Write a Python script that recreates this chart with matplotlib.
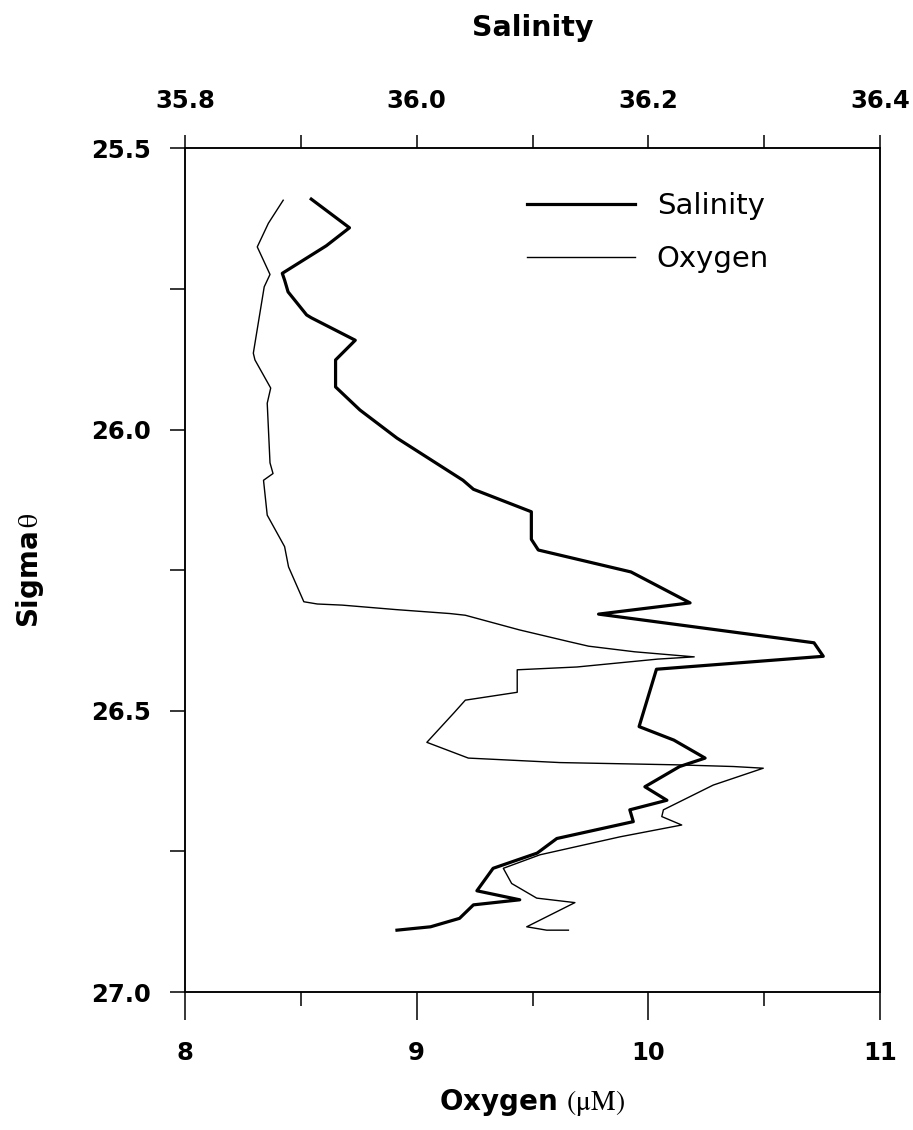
import numpy as np
import matplotlib
matplotlib.use('Agg')
import matplotlib.pyplot as plt
from matplotlib.ticker import MultipleLocator, FormatStrFormatter

plt.rcParams['mathtext.fontset'] = 'stix'

# salinity profile (top axis) vs sigma-theta
sal_sigma = [25.590, 25.641, 25.673, 25.722, 25.734, 25.755, 25.796, 25.801, 25.841, 25.876,
             25.924, 25.965, 26.015, 26.090, 26.106, 26.146, 26.195, 26.214, 26.253, 26.308,
             26.328, 26.379, 26.403, 26.426, 26.528, 26.552, 26.584, 26.599, 26.635, 26.659,
             26.676, 26.697, 26.727, 26.753, 26.780, 26.820, 26.836, 26.845, 26.869, 26.884,
             26.890]
salinity = [35.909, 35.942, 35.922, 35.884, 35.886, 35.889, 35.905, 35.909, 35.947, 35.930,
            35.930, 35.951, 35.983, 36.040, 36.049, 36.099, 36.099, 36.105, 36.185, 36.236,
            36.157, 36.343, 36.351, 36.207, 36.192, 36.222, 36.249, 36.227, 36.197, 36.216,
            36.184, 36.187, 36.121, 36.104, 36.066, 36.052, 36.089, 36.049, 36.037, 36.012,
            35.983]

# oxygen profile (bottom axis) vs sigma-theta
oxy_sigma = [25.592, 25.633, 25.675, 25.724, 25.746, 25.864, 25.876, 25.926, 25.953, 26.059,
             26.078, 26.090, 26.152, 26.208, 26.244, 26.306, 26.310, 26.312, 26.320, 26.327,
             26.330, 26.356, 26.377, 26.385, 26.395, 26.404, 26.408, 26.422, 26.427, 26.467,
             26.481, 26.504, 26.556, 26.584, 26.592, 26.596, 26.599, 26.602, 26.632, 26.676,
             26.688, 26.703, 26.724, 26.756, 26.780, 26.807, 26.833, 26.841, 26.884, 26.890,
             26.890]
oxygen = [8.424, 8.360, 8.312, 8.367, 8.342, 8.295, 8.302, 8.370, 8.355, 8.367,
          8.380, 8.339, 8.355, 8.430, 8.447, 8.513, 8.571, 8.679, 8.912, 9.144,
          9.210, 9.443, 9.658, 9.742, 9.941, 10.198, 10.040, 9.692, 9.434, 9.434,
          9.210, 9.160, 9.044, 9.223, 9.619, 10.122, 10.367, 10.496, 10.280, 10.065,
          10.058, 10.144, 9.878, 9.532, 9.374, 9.410, 9.518, 9.683, 9.475, 9.561,
          9.655]

fig = plt.figure(figsize=(9.13, 11.3), dpi=100)
ax = fig.add_axes([0.2026, 0.1221, 0.7613, 0.7465])
ax2 = ax.twiny()

l_oxy, = ax.plot(oxygen, oxy_sigma, color='black', lw=1.0, label='Oxygen')
l_sal, = ax2.plot(salinity, sal_sigma, color='black', lw=2.3, label='Salinity')

ax.set_xlim(8, 11)
ax.set_ylim(27.0, 25.5)
ax2.set_xlim(35.8, 36.4)

ax.xaxis.set_major_locator(MultipleLocator(1))
ax.xaxis.set_minor_locator(MultipleLocator(0.5))
ax.yaxis.set_major_locator(MultipleLocator(0.5))
ax.yaxis.set_minor_locator(MultipleLocator(0.25))
ax.yaxis.set_major_formatter(FormatStrFormatter('%.1f'))
ax2.xaxis.set_major_locator(MultipleLocator(0.2))
ax2.xaxis.set_minor_locator(MultipleLocator(0.1))
ax2.xaxis.set_major_formatter(FormatStrFormatter('%.1f'))

for a in (ax, ax2):
    for s in a.spines.values():
        s.set_linewidth(1.1)

ax.tick_params(axis='x', which='major', direction='out', length=20, width=1.1, pad=15)
ax.tick_params(axis='x', which='minor', direction='out', length=10, width=1.1)
ax.tick_params(axis='y', which='both', direction='out', length=10.8, width=1.1, pad=14)
ax2.tick_params(axis='x', which='both', direction='out', length=9.4, width=1.1, pad=16)

for lab in ax.get_xticklabels() + ax.get_yticklabels() + ax2.get_xticklabels():
    lab.set_fontsize(17.5)
    lab.set_fontweight('bold')

ax.set_xlabel(r'Oxygen $\mathrm{(\mu M)}$', fontsize=20, fontweight='bold', labelpad=16)
ax.set_ylabel(r'Sigma$\,\mathrm{\theta}$', fontsize=20, fontweight='bold', labelpad=32)
ax2.set_xlabel('Salinity', fontsize=20.5, fontweight='bold', labelpad=38)

ax2.legend(handles=[l_sal, l_oxy], loc='upper left', bbox_to_anchor=(0.492, 0.948),
           frameon=False, fontsize=21, handlelength=3.7, handletextpad=0.75,
           labelspacing=0.86, borderpad=0, borderaxespad=0)

fig.savefig('out.png', dpi=100)
